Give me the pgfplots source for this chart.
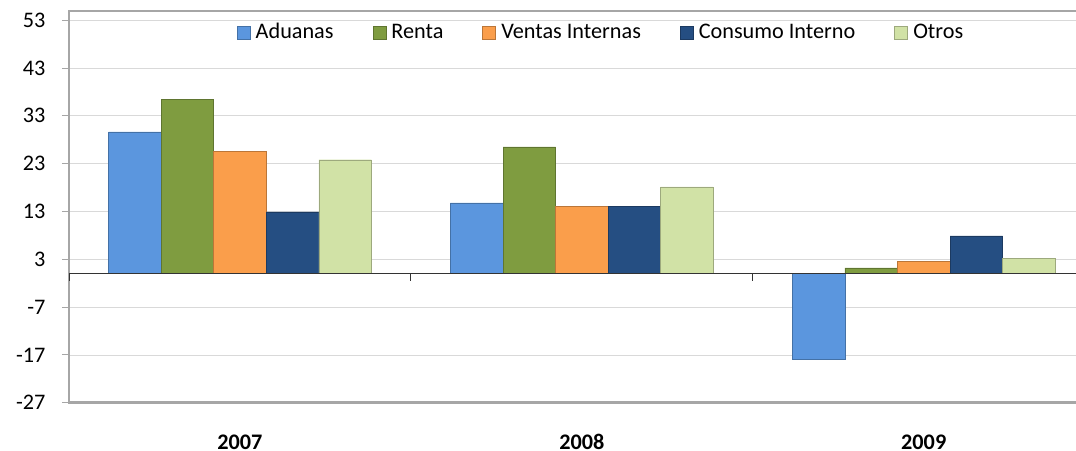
\documentclass[border=0pt]{standalone}
\usepackage{pgfplots}
\pgfplotsset{compat=1.18}
\usepackage{fontspec}
\setmainfont{Carlito}

\definecolor{cAduanas}{RGB}{91,150,222}
\definecolor{cRenta}{RGB}{127,156,64}
\definecolor{cVentas}{RGB}{250,158,75}
\definecolor{cConsumo}{RGB}{37,78,130}
\definecolor{cOtros}{RGB}{209,226,166}
\definecolor{frame}{RGB}{166,166,166}

\begin{document}
\fontsize{22.3}{27}\selectfont
\begin{tikzpicture}
\path[use as bounding box] (0,0) rectangle (1076bp,451bp);
\begin{axis}[
    at={(69bp,48.3bp)}, anchor=south west,
    scale only axis,
    width=1025.7bp, height=391.7bp,
    xmin=-0.5, xmax=2.5,
    ymin=-27, ymax=54.9,
    ybar=0pt, bar width=0.1537,
    xtick={0,1,2}, xticklabels={2007,2008,2009},
    xtick style={draw=none},
    x tick label style={font=\bfseries, anchor=base, inner sep=0pt, yshift=-40bp},
    ytick={-27,-17,-7,3,13,23,33,43,53},
    ytick pos=left,
    tick align=outside,
    major tick length=7bp,
    ytick style={frame, line width=0.8bp},
    y tick label style={anchor=east, xshift=-9bp},
    /pgf/number format/assume math mode=true,
    ymajorgrids=true,
    grid style={gray!30, line width=0.6bp},
    axis line style={frame, line width=2.5bp},
    legend columns=5,
    legend style={
        at={(0.5187,0.944)}, anchor=center,
        draw=none, fill=none,
        /tikz/every odd column/.append style={column sep=3.5bp},
        /tikz/every even column/.append style={column sep=37bp},
    },
    legend image code/.code={
        \draw[#1] (0bp,-6.5bp) rectangle (13bp,6.5bp);
    },
]

\addplot[fill=cAduanas, draw=cAduanas!75!black] coordinates {(0,29.6) (1,14.8) (2,-17.9)};
\addlegendentry{Aduanas}
\addplot[fill=cRenta, draw=cRenta!75!black] coordinates {(0,36.4) (1,26.5) (2,1.2)};
\addlegendentry{Renta}
\addplot[fill=cVentas, draw=cVentas!75!black] coordinates {(0,25.5) (1,14.0) (2,2.5)};
\addlegendentry{Ventas Internas}
\addplot[fill=cConsumo, draw=cConsumo!75!black] coordinates {(0,12.9) (1,14.0) (2,7.9)};
\addlegendentry{Consumo Interno}
\addplot[fill=cOtros, draw=cOtros!75!black] coordinates {(0,23.8) (1,18.1) (2,3.2)};
\addlegendentry{Otros}

% category axis at zero with its tick marks
\draw[black!80, line width=1bp] (axis cs:-0.5,0) -- (axis cs:2.5,0);
\draw[black!80, line width=1bp] (axis cs:-0.5,0) -- ++(0bp,-7.7bp);
\draw[black!80, line width=1bp] (axis cs:0.5,0) -- ++(0bp,-7.7bp);
\draw[black!80, line width=1bp] (axis cs:1.5,0) -- ++(0bp,-7.7bp);
\end{axis}
\end{tikzpicture}
\end{document}
